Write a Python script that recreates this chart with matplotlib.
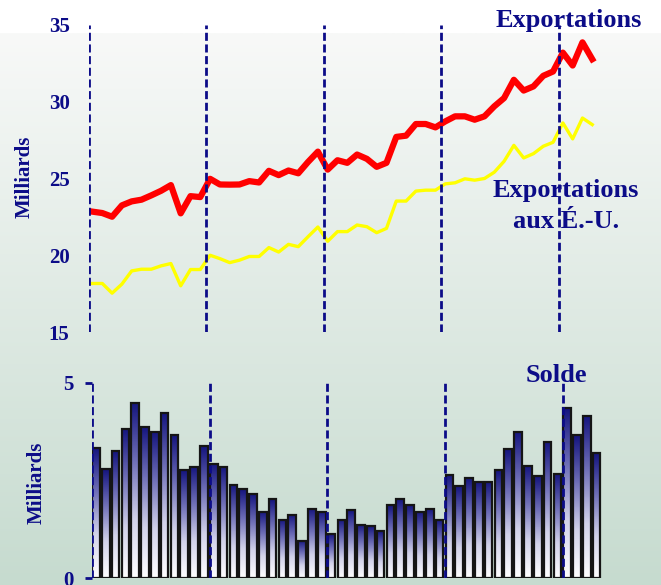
import numpy as np
import matplotlib
matplotlib.use("Agg")
import matplotlib.pyplot as plt
from matplotlib.colors import LinearSegmentedColormap

# ---- data ----
exports = [22.84, 22.75, 22.51, 23.25, 23.51, 23.62, 23.90, 24.20, 24.57, 22.73, 23.85, 23.79,
           24.98, 24.61, 24.60, 24.61, 24.83, 24.74, 25.50, 25.22, 25.52, 25.34, 26.08, 26.75,
           25.58, 26.19, 26.02, 26.56, 26.28, 25.76, 26.02, 27.71, 27.79, 28.55, 28.55, 28.33,
           28.72, 29.05, 29.05, 28.83, 29.05, 29.70, 30.24, 31.43, 30.73, 31.00, 31.69, 31.97,
           33.20, 32.36, 33.87, 32.77]
exports_us = [18.16, 18.16, 17.53, 18.12, 18.98, 19.09, 19.09, 19.31, 19.46, 18.01, 19.07, 19.07,
              20.00, 19.78, 19.52, 19.68, 19.92, 19.92, 20.50, 20.21, 20.71, 20.56, 21.21, 21.84,
              20.91, 21.54, 21.54, 21.97, 21.86, 21.47, 21.75, 23.53, 23.53, 24.18, 24.24, 24.24,
              24.65, 24.72, 24.98, 24.89, 25.00, 25.41, 26.12, 27.16, 26.34, 26.62, 27.10, 27.36,
              28.62, 27.58, 28.94, 28.51]
balance = [3.32, 2.79, 3.25, 3.82, 4.49, 3.87, 3.74, 4.23, 3.66, 2.76, 2.85, 3.37,
           2.92, 2.85, 2.39, 2.27, 2.15, 1.70, 2.02, 1.49, 1.62, 0.96, 1.77, 1.70,
           1.12, 1.49, 1.74, 1.36, 1.32, 1.20, 1.86, 2.02, 1.86, 1.70, 1.77, 1.49,
           2.64, 2.35, 2.56, 2.47, 2.47, 2.76, 3.30, 3.74, 2.88, 2.60, 3.49, 2.67,
           4.35, 3.66, 4.15, 3.20]
top_ticks = [15, 20, 25, 30, 35]
bottom_ticks = [0, 5]
year_starts = [0, 12, 24, 36, 48]

NAVY = "#0c0c88"
W, H = 661, 585
plt.rcParams['font.family'] = ['Liberation Serif', 'DejaVu Serif']
plt.rcParams['font.weight'] = 'bold'

fig = plt.figure(figsize=(W / 100, H / 100), dpi=100)
fig.patch.set_facecolor("white")

# background gradient
bg = fig.add_axes([0, 0, 1, 1 - 33 / H], zorder=-10)
bg_cmap = LinearSegmentedColormap.from_list("bg", ["#c6dbcf", "#f8f9f8"])
bg.imshow(np.linspace(0, 1, 256).reshape(-1, 1), cmap=bg_cmap, aspect="auto",
          origin="lower", extent=(0, 1, 0, 1))
bg.set_axis_off()

def px_axes(left, top, right, bottom):
    return [left / W, 1 - bottom / H, (right - left) / W, (bottom - top) / H]

# ---- top panel ----
ax = fig.add_axes(px_axes(89, 25, 600, 332))
ax.set_facecolor("none")
x = np.arange(len(exports))
ax.plot(x, exports, color="#ff0000", lw=4.5, zorder=4)
ax.plot(x, exports_us, color="#ffff00", lw=2.4, zorder=4)
for s in year_starts:
    ax.axvline(s - 0.4, color=NAVY, lw=2, ls=(0, (2.9, 1.3)), zorder=5)
ax.set_xlim(-0.357, 51.79)
ax.set_ylim(15, 35)
ax.set_yticks(top_ticks)
ax.set_yticklabels([str(t) for t in top_ticks])
ax.tick_params(axis="y", length=0, pad=14, labelsize=15, labelcolor=NAVY)
ax.set_xticks([])
for sp in ax.spines.values():
    sp.set_visible(False)

ax.text(569 / W, 1 - 20 / H, "Exportations", transform=fig.transFigure, ha="center",
        va="center", fontsize=19, color=NAVY, fontweight="bold", zorder=1, clip_on=False)
ax.text(566 / W, 1 - 206 / H, "Exportations\naux É.-U.", transform=fig.transFigure,
        ha="center", va="center", fontsize=19, color=NAVY, fontweight="bold",
        linespacing=1.45, zorder=1, clip_on=False)

# ---- bottom panel ----
ax2 = fig.add_axes(px_axes(91.7, 382.7, 610, 578))
ax2.set_facecolor("none")
xb = np.arange(len(balance))
bars = ax2.bar(xb, balance, width=0.78, color="none", edgecolor="#151515", lw=1.6, zorder=3)
bar_cmap = LinearSegmentedColormap.from_list("bar", ["#ffffff", "#d2d2ea", "#7070b8", "#15157f"])
grad = np.linspace(0, 1, 128).reshape(-1, 1)
for b in bars:
    x0, w, h = b.get_x(), b.get_width(), b.get_height()
    im = ax2.imshow(grad, cmap=bar_cmap, aspect="auto", origin="lower",
                    extent=(x0, x0 + w, 0, h), zorder=2)
    im.set_clip_path(b)
for s in year_starts:
    ax2.axvline(s - 0.43, color=NAVY, lw=2, ls=(0, (2.9, 1.3)), zorder=5)
ax2.set_xlim(-0.43, 52.36)
ax2.set_ylim(0, 5)
ax2.set_yticks(bottom_ticks)
ax2.set_yticklabels([str(t) for t in bottom_ticks])
ax2.tick_params(axis="y", length=5.3, width=2, color=NAVY, pad=8, labelsize=15,
                labelcolor=NAVY)
ax2.set_xticks([])
for sp in ax2.spines.values():
    sp.set_visible(False)
ax2.text(556 / W, 1 - 375 / H, "Solde", transform=fig.transFigure, ha="center",
         va="center", fontsize=19, color=NAVY, fontweight="bold", zorder=1, clip_on=False)

fig.text(25 / W, 1 - 177 / H, "Milliards", rotation=90, ha="center", va="center",
         fontsize=15, color=NAVY, fontweight="bold")
fig.text(37 / W, 1 - 482.5 / H, "Milliards", rotation=90, ha="center", va="center",
         fontsize=15, color=NAVY, fontweight="bold")

fig.savefig("out.png", dpi=100)
